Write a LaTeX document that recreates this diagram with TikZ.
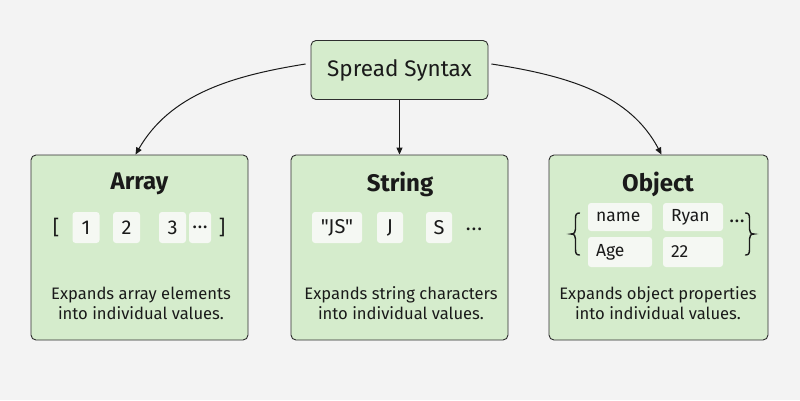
\documentclass[tikz,border=0pt]{standalone}
\usepackage{fontspec}
\setmainfont{Fira Sans}
\usetikzlibrary{arrows.meta}
\definecolor{bg}{HTML}{F3F3F3}
\definecolor{boxgreen}{HTML}{D5ECCC}
\definecolor{edge}{HTML}{2E2E2E}
\definecolor{chip}{HTML}{F5F8F3}
\definecolor{ink}{HTML}{1A1A1A}
\begin{document}
\begin{tikzpicture}[x=1pt,y=-1pt,
  panel/.style={draw=edge, line width=0.9pt, fill=boxgreen, rounded corners=5pt, inner sep=0pt},
  ttl/.style={font=\fontsize{24}{28}\selectfont\bfseries, text=ink, inner sep=0pt},
  desc/.style={font=\fontsize{16.6}{20}\selectfont, text=ink, align=center, inner sep=0pt},
  chipbox/.style={fill=chip, rounded corners=3pt, inner sep=0pt, text=ink, font=\fontsize{20}{22}\selectfont},
  lchip/.style={fill=chip, rounded corners=3pt, inner xsep=8pt, inner ysep=0pt, text=ink, align=left, font=\fontsize{17.5}{20}\selectfont},
  sym/.style={text=ink, inner sep=0pt, font=\fontsize{20}{22}\selectfont},
  bracepath/.style={draw=ink, line width=1.4pt, line cap=round},
  conn/.style={draw=ink, line width=1pt, -{Triangle[length=7pt,width=6pt]}}
]
\useasboundingbox (0,0) rectangle (800,400);
\fill[bg] (0,0) rectangle (800,400);

% top node
\node[panel, minimum width=177pt, minimum height=59pt, font=\fontsize{22.5}{26}\selectfont, text=ink] (top) at (399.5,70) {Spread Syntax};

% panels
\node[panel, minimum width=217pt, minimum height=185pt] (arr) at (139.5,247.5) {};
\node[panel, minimum width=217pt, minimum height=185pt] (str) at (399.5,247.5) {};
\node[panel, minimum width=219pt, minimum height=185pt] (obj) at (658.5,247.5) {};

% titles
\node[ttl] (arrT) at (139.5,184) {Array};
\node[ttl] (strT) at (400,184) {String};
\node[ttl] (objT) at (658,184) {Object};

% array content
\node[sym] (lb) at (56,227) {[};
\node[chipbox, minimum width=27pt, minimum height=31pt] (a1) at (86,227.5) {1};
\node[chipbox, minimum width=27pt, minimum height=31pt] (a2) at (126.5,227.5) {2};
\node[chipbox, minimum width=27pt, minimum height=31pt] (a3) at (172.5,227.5) {3};
\node[chipbox, minimum width=22pt, minimum height=31pt] (a4) at (200,227.5) {.\kern0.5pt.\kern0.5pt.};
\node[sym] (rb) at (222,227) {]};

% string content
\node[chipbox, minimum width=50pt, minimum height=31pt] (s1) at (337,227.5) {\addfontfeature{Ligatures=TeXOff}"JS"};
\node[chipbox, minimum width=26pt, minimum height=31pt] (s2) at (390,227.5) {J};
\node[chipbox, minimum width=26pt, minimum height=31pt] (s3) at (439,227.5) {S};
\node[sym] (s4) at (474,229) {.\kern1pt.\kern1pt.};

% object content
\draw[bracepath] (579.5,213) .. controls (576,213) and (575.5,215) .. (575.5,219) -- (575.5,229)
  .. controls (575.5,232) and (574.5,234) .. (571,234)
  .. controls (574.5,234) and (575.5,236) .. (575.5,239) -- (575.5,249)
  .. controls (575.5,253) and (576,255) .. (579.5,255);
\node[lchip, text width=48pt, minimum height=28pt] (o1) at (620,217) {name};
\node[lchip, text width=44pt, minimum height=28pt] (o2) at (693,217) {Ryan};
\node[lchip, text width=48pt, minimum height=30pt] (o3) at (620,252) {Age};
\node[lchip, text width=44pt, minimum height=30pt] (o4) at (693,252) {22};
\node[sym] (o5) at (737,221) {.\kern0.5pt.\kern0.5pt.};
\draw[bracepath] (745.5,213) .. controls (749,213) and (749.5,215) .. (749.5,219) -- (749.5,229)
  .. controls (749.5,232) and (750.5,234) .. (754,234)
  .. controls (750.5,234) and (749.5,236) .. (749.5,239) -- (749.5,249)
  .. controls (749.5,253) and (749,255) .. (745.5,255);

% descriptions
\node[desc] (arrD) at (141,303) {Expands array elements\\into individual values.};
\node[desc] (strD) at (401,303) {Expands string characters\\into individual values.};
\node[desc] (objD) at (658,303) {Expands object properties\\into individual values.};

% connectors
\draw[conn] ([xshift=-5pt,yshift=6pt]top.west) .. controls (230,76) and (170,95) .. ([xshift=-4pt]arr.north);
\draw[conn] (top.south) -- (str.north);
\draw[conn] ([xshift=3pt,yshift=6pt]top.east) .. controls (570,76) and (630,95) .. ([xshift=3pt]obj.north);
\end{tikzpicture}
\end{document}
